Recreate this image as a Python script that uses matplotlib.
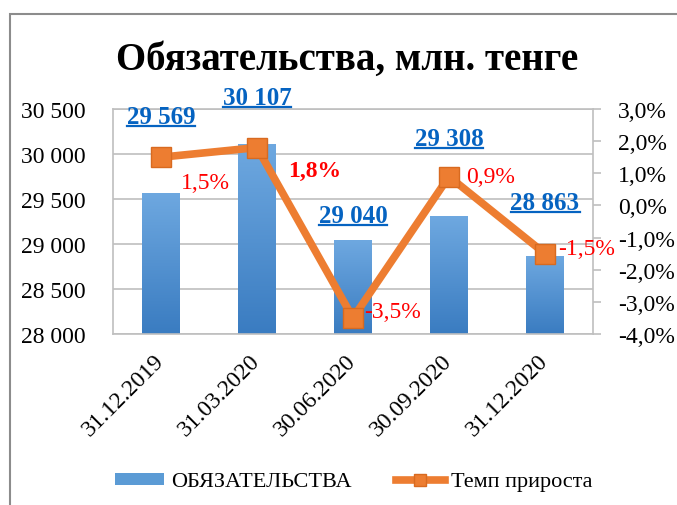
import matplotlib.pyplot as plt
import numpy as np
from matplotlib.lines import Line2D
from matplotlib.patches import Patch, Rectangle
from matplotlib.ticker import FuncFormatter

dates = ["31.12.2019", "31.03.2020", "30.06.2020", "30.09.2020", "31.12.2020"]
liabilities = [29569, 30107, 29040, 29308, 28863]
growth = [1.5, 1.8, -3.5, 0.9, -1.5]
liab_labels = ["29 569", "30 107", "29 040", "29 308", "28 863"]
growth_labels = ["1,5%", "1,8%", "-3,5%", "0,9%", "-1,5%"]
left_ticks = [28000, 28500, 29000, 29500, 30000, 30500]
right_ticks = [-4, -3, -2, -1, 0, 1, 2, 3]

# label offsets in pixels (manually placed in the original)
value_offsets = [(0, 76), (0, 47), (0, 25), (0, 78), (0, 54)]
growth_offsets = [(20, -25), (31, -23), (11, 6), (17, 0), (13, 5)]
growth_bold = [False, True, False, False, False]

plt.rcParams["font.family"] = ["Liberation Serif", "DejaVu Serif"]

BLUE_TOP = "#6EA8E0"
BLUE_BOT = "#3A7CC1"
ORANGE = "#ED7D31"
GRID = "#BFBFBF"

fig = plt.figure(figsize=(6.77, 5.06), dpi=100)
ax = fig.add_axes([113 / 677, 1 - 335 / 506, 480 / 677, 225 / 506])
ax2 = ax.twinx()

x = np.arange(len(dates))
bars = ax.bar(x, liabilities, width=0.39, color="none", zorder=2)
grad = np.linspace(0, 1, 100).reshape(-1, 1)
cmap = plt.matplotlib.colors.LinearSegmentedColormap.from_list("b", [BLUE_BOT, BLUE_TOP])
for b in bars:
    im = ax.imshow(grad, cmap=cmap, origin="lower", aspect="auto",
                   extent=[b.get_x(), b.get_x() + b.get_width(), 28000, b.get_height()],
                   zorder=2)
    im.set_clip_path(b)

ax.set_xlim(-0.5, len(dates) - 0.5)
ax.set_ylim(28000, 30500)
ax.set_yticks(left_ticks)
ax.yaxis.set_major_formatter(FuncFormatter(lambda v, p: f"{int(v):,}".replace(",", " ")))
ax.grid(axis="y", color=GRID, lw=1.2, zorder=0)
ax.set_axisbelow(True)
ax.tick_params(axis="y", length=0, pad=20, labelsize=17)
ax.set_xticks(x)
ax.set_xticklabels(dates, rotation=45, ha="right", va="center",
                   rotation_mode="anchor", fontsize=17)
ax.tick_params(axis="x", length=0, pad=17)

for sp in ["left", "bottom", "top"]:
    ax.spines[sp].set_color(GRID)
    ax.spines[sp].set_linewidth(1.2)
ax.spines["right"].set_visible(False)

ax2.plot(x, growth, color=ORANGE, lw=5.5, marker="s", markersize=15,
         markerfacecolor=ORANGE, markeredgecolor="#D86A20", markeredgewidth=1,
         solid_joinstyle="miter", zorder=3)
ax2.set_ylim(-4, 3)
ax2.set_yticks(right_ticks)
ax2.yaxis.set_major_formatter(FuncFormatter(lambda v, p: f"{v:.1f}%".replace(".", ",")))
ax2.tick_params(axis="y", length=6, width=1.2, color=GRID, pad=12, labelsize=17)
for sp in ["left", "bottom", "top"]:
    ax2.spines[sp].set_visible(False)
ax2.spines["right"].set_color(GRID)
ax2.spines["right"].set_linewidth(1.2)

value_texts = []
for xi, v, lab, off in zip(x, liabilities, liab_labels, value_offsets):
    t = ax.annotate(lab, (xi, v), xytext=off, textcoords="offset pixels",
                    ha="center", va="center", fontsize=18, fontweight="bold",
                    color="#0563C1", annotation_clip=False, zorder=5)
    value_texts.append(t)

for xi, g, lab, off, bold in zip(x, growth, growth_labels, growth_offsets, growth_bold):
    ax2.annotate(lab, (xi, g), xytext=off, textcoords="offset pixels",
                 ha="left", va="center", fontsize=17,
                 fontweight="bold" if bold else "normal",
                 color="#FF0000", annotation_clip=False, zorder=5)

fig.text(0.513, 1 - 70 / 506, "Обязательства, млн. тенге", ha="center",
         va="baseline", fontsize=28, fontweight="bold")

handles = [
    Patch(facecolor="#5B9BD5", edgecolor="none"),
    Line2D([0], [0], color=ORANGE, lw=5.5, marker="s", markersize=8,
           markerfacecolor=ORANGE, markeredgecolor="#D86A20"),
]
fig.legend(handles, ["ОБЯЗАТЕЛЬСТВА", "Темп прироста"], loc="center",
           bbox_to_anchor=(0.523, 1 - 483 / 506), ncol=2, frameon=False,
           fontsize=16, handlelength=2.2, handleheight=0.45, handletextpad=0.3,
           columnspacing=2.0)

# outer chart border (only top and left edges visible in the crop)
fig.patches.append(Rectangle((9.5 / 677, -0.1), 1.2, 1 - 14.5 / 506 + 0.1,
                             transform=fig.transFigure, fill=False,
                             edgecolor="#8C8C8C", lw=1.5))

# underline the value labels
fig.canvas.draw()
renderer = fig.canvas.get_renderer()
inv = fig.transFigure.inverted()
for t in value_texts:
    bb = t.get_window_extent(renderer)
    (x0, y0), (x1, _) = inv.transform([(bb.x0, bb.y0 + 2), (bb.x1, bb.y0 + 2)])
    fig.lines.append(Line2D([x0, x1], [y0, y0], transform=fig.transFigure,
                            color="#0563C1", lw=1.6))

fig.savefig("out.png", dpi=100)
